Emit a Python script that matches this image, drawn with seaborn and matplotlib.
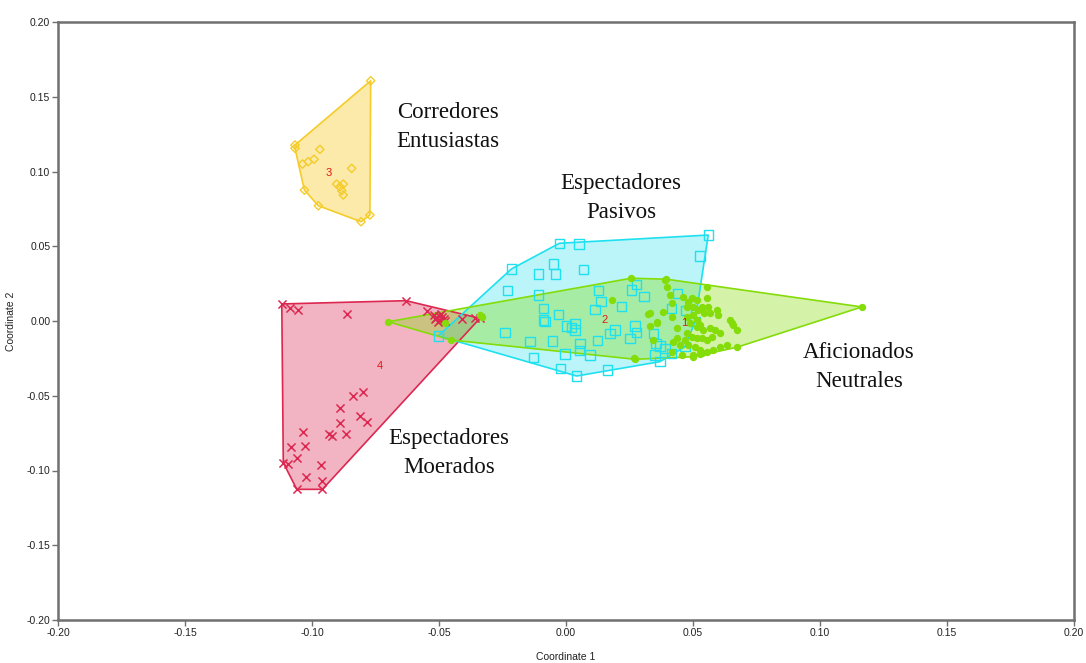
import numpy as np
import pandas as pd
import matplotlib
matplotlib.use("Agg")
import matplotlib.pyplot as plt
import seaborn as sns

# Cluster 1 - green circles (Aficionados Neutrales)
c1_x = [-0.0700, -0.0453, -0.0476, -0.0339, -0.0332, 0.0180, 0.0256, 0.0394, 0.0272, 0.1165,
        0.0554, 0.0672, 0.0501, 0.0528, 0.0324, 0.0331, 0.0357,
        0.0390, 0.0396, 0.0409, 0.0416, 0.0462, 0.0482, 0.0495, 0.0514, 0.0475, 0.0501,
        0.0521, 0.0534, 0.0554, 0.0560, 0.0543, 0.0567, 0.0593, 0.0600, 0.0646, 0.0652,
        0.0659, 0.0672, 0.0475, 0.0501, 0.0514, 0.0488, 0.0514, 0.0528, 0.0541, 0.0567,
        0.0587, 0.0606, 0.0574, 0.0554, 0.0534, 0.0514, 0.0495, 0.0475, 0.0469, 0.0436,
        0.0423, 0.0449, 0.0482, 0.0508, 0.0528, 0.0554, 0.0580, 0.0606, 0.0633, 0.0331,
        0.0357, 0.0383, 0.0416, 0.0436, 0.0344, 0.0416, 0.0456, 0.0501, 0.0534, 0.0268]
c1_y = [-0.0005, -0.0127, -0.0015, 0.0040, 0.0029, 0.0140, 0.0286, 0.0280, -0.0256, 0.0094,
        0.0225, -0.0176, -0.0227, -0.0221, 0.0045, -0.0031, -0.0005,
        0.0274, 0.0225, 0.0174, 0.0118, 0.0163, 0.0129, 0.0152, 0.0140, 0.0096, 0.0096,
        0.0074, 0.0096, 0.0152, 0.0096, 0.0051, 0.0051, 0.0074, 0.0040, 0.0007, -0.0016,
        -0.0027, -0.0060, 0.0029, 0.0040, 0.0007, -0.0016, -0.0038, -0.0027, -0.0060, -0.0049,
        -0.0060, -0.0083, -0.0105, -0.0127, -0.0116, -0.0116, -0.0105, -0.0083, -0.0127, -0.0116,
        -0.0138, -0.0161, -0.0161, -0.0172, -0.0194, -0.0205, -0.0194, -0.0172, -0.0161, 0.0051,
        -0.0016, 0.0062, 0.0029, -0.0049, -0.0127, -0.0205, -0.0227, -0.0239, -0.0216, -0.0250]

# Cluster 2 - cyan squares (Espectadores Pasivos)
c2_x = [0.0560, 0.0528, -0.0026, 0.0051, -0.0215, -0.0050, -0.0109, -0.0041, 0.0068, -0.0230,
        -0.0109, -0.0089, -0.0030, -0.0089, -0.0083, 0.0003, 0.0022, 0.0035, 0.0035, -0.0240,
        -0.0142, -0.0054, -0.0004, 0.0055, 0.0052, 0.0094, 0.0125, -0.0129, -0.0021, 0.0042,
        0.0163, 0.0127, 0.0138, 0.0114, 0.0219, 0.0259, 0.0278, 0.0307, 0.0173, 0.0193,
        0.0252, 0.0272, 0.0278, 0.0344, 0.0354, 0.0370, 0.0350, 0.0370, 0.0390, 0.0416,
        0.0416, 0.0438, 0.0472, 0.0469, 0.0508, -0.0503]
c2_y = [0.0575, 0.0435, 0.0520, 0.0515, 0.0348, 0.0381, 0.0314, 0.0314, 0.0346, 0.0203,
        0.0174, 0.0085, 0.0045, 0.0007, -0.0005, -0.0033, -0.0042, -0.0015, -0.0060, -0.0076,
        -0.0138, -0.0134, -0.0221, -0.0149, -0.0199, -0.0227, -0.0132, -0.0243, -0.0316, -0.0368,
        -0.0328, 0.0203, 0.0129, 0.0078, 0.0096, 0.0207, 0.0245, 0.0163, -0.0082, -0.0060,
        -0.0116, -0.0033, -0.0078, -0.0082, -0.0149, -0.0167, -0.0227, -0.0272, -0.0183, -0.0216,
        0.0085, 0.0185, 0.0069, -0.0172, -0.0005, -0.0100]

# Cluster 3 - yellow diamonds (Corredores Entusiastas)
c3_x = [-0.0769, -0.1067, -0.1067, -0.1037, -0.1015, -0.0992, -0.0969, -0.0844, -0.0903,
        -0.0890, -0.0877, -0.0883, -0.0877, -0.1030, -0.0975, -0.0807, -0.0772]
c3_y = [0.1607, 0.1177, 0.1155, 0.1050, 0.1066, 0.1082, 0.1148, 0.1021, 0.0916,
        0.0898, 0.0916, 0.0872, 0.0843, 0.0876, 0.0771, 0.0664, 0.0709]

# Cluster 4 - red crosses (Espectadores Moerados)
c4_x = [-0.1119, -0.1087, -0.1054, -0.0863, -0.0840, -0.0800, -0.0890, -0.0890, -0.0811, -0.0785,
        -0.0866, -0.0932, -0.0922, -0.1034, -0.1028, -0.1084, -0.1060, -0.1113, -0.1093, -0.0965,
        -0.1024, -0.0962, -0.1060, -0.0959, -0.0630, -0.0548, -0.0520, -0.0510, -0.0500, -0.0495,
        -0.0488, -0.0480, -0.0505, -0.0492, -0.0515, -0.0478, -0.0411, -0.0358, -0.0339]
c4_y = [0.0114, 0.0085, 0.0074, 0.0047, -0.0502, -0.0473, -0.0580, -0.0684, -0.0635, -0.0674,
        -0.0756, -0.0756, -0.0769, -0.0745, -0.0834, -0.0841, -0.0918, -0.0948, -0.0957, -0.0963,
        -0.1046, -0.1068, -0.1126, -0.1126, 0.0136, 0.0069, 0.0040, 0.0020, 0.0035, 0.0010,
        0.0028, 0.0015, -0.0005, 0.0048, 0.0012, 0.0002, 0.0011, 0.0018, 0.0018]

cluster_ids = ["1", "2", "3", "4"]
cluster_names = ["Aficionados\nNeutrales", "Espectadores\nPasivos",
                 "Corredores\nEntusiastas", "Espectadores\nMoerados"]
# centroid number labels
id_x = [0.0465, 0.0150, -0.0933, -0.0732]
id_y = [-0.0013, 0.0007, 0.0990, -0.0301]
# group name positions
name_x = [0.1154, 0.0217, -0.0465, -0.0461]
name_y = [-0.0308, 0.0823, 0.1298, -0.0883]

ticks = [-0.20, -0.15, -0.10, -0.05, 0.00, 0.05, 0.10, 0.15, 0.20]


def convex_hull(px, py):
    pts = sorted(set(zip(px, py)))

    def cross(o, a, b):
        return (a[0] - o[0]) * (b[1] - o[1]) - (a[1] - o[1]) * (b[0] - o[0])

    lower, upper = [], []
    for p in pts:
        while len(lower) >= 2 and cross(lower[-2], lower[-1], p) <= 0:
            lower.pop()
        lower.append(p)
    for p in reversed(pts):
        while len(upper) >= 2 and cross(upper[-2], upper[-1], p) <= 0:
            upper.pop()
        upper.append(p)
    hull = lower[:-1] + upper[:-1]
    return np.array(hull)


sns.set_style("white")
plt.rcParams["font.family"] = ["Liberation Sans", "DejaVu Sans"]

fig = plt.figure(figsize=(10.86, 6.63), dpi=100)
ax = fig.add_axes([58 / 1086, 43 / 663, 1016 / 1086, 598 / 663])

# drawing order: red, yellow, cyan, green (green on top)
groups = [
    (c4_x, c4_y, "#dc2850", "x", 0.35),
    (c3_x, c3_y, "#f5cc2a", "D", 0.40),
    (c2_x, c2_y, "#1fe0ef", "s", 0.30),
    (c1_x, c1_y, "#84dc08", "o", 0.35),
]

# hulls first
for gx, gy, col, mk, alpha in groups:
    h = convex_hull(gx, gy)
    ax.fill(h[:, 0], h[:, 1], facecolor=col, alpha=alpha, edgecolor="none", zorder=1)
    hc = np.vstack([h, h[:1]])
    ax.plot(hc[:, 0], hc[:, 1], color=col, lw=1.2, zorder=2)

# points
for gx, gy, col, mk, alpha in groups:
    df = pd.DataFrame({"x": gx, "y": gy})
    if mk == "x":
        sns.scatterplot(data=df, x="x", y="y", marker="x", color=col, s=34,
                        linewidth=1.1, ax=ax, zorder=3)
    elif mk == "o":
        sns.scatterplot(data=df, x="x", y="y", marker="o", color=col, s=28,
                        edgecolor=col, linewidth=0, ax=ax, zorder=3)
    else:
        size = 45 if mk == "s" else 18
        sns.scatterplot(data=df, x="x", y="y", marker=mk, s=size, facecolor="none",
                        edgecolor=col, linewidth=1.0, ax=ax, zorder=3)

for cid, tx, ty in zip(cluster_ids, id_x, id_y):
    ax.text(tx, ty, cid, color="#e01818", fontsize=8, ha="center", va="center", zorder=4)

for nm, tx, ty in zip(cluster_names, name_x, name_y):
    ax.text(tx, ty, nm, fontsize=16.5, ha="center", va="center", linespacing=1.55,
            family=["Liberation Serif", "DejaVu Serif"], color="#111111", zorder=5)

ax.set_xlim(-0.20, 0.20)
ax.set_ylim(-0.20, 0.20)
ax.set_xticks(ticks)
ax.set_yticks(ticks)
ax.set_xticklabels([f"{t:.2f}" for t in ticks])
ax.set_yticklabels([f"{t:.2f}" for t in ticks])
ax.tick_params(axis="both", direction="out", length=4, width=1, color="#707070",
               labelsize=7.5, pad=1.5, labelcolor="#222222")
ax.tick_params(bottom=True, left=True)
for sp in ax.spines.values():
    sp.set_visible(True)
    sp.set_color("#707070")
    sp.set_linewidth(1.8)
ax.set_xlabel("Coordinate 1", fontsize=7.5, color="#222222", labelpad=10)
ax.set_ylabel("Coordinate 2", fontsize=7.5, color="#222222", labelpad=8)

fig.savefig("out.png", dpi=100)
